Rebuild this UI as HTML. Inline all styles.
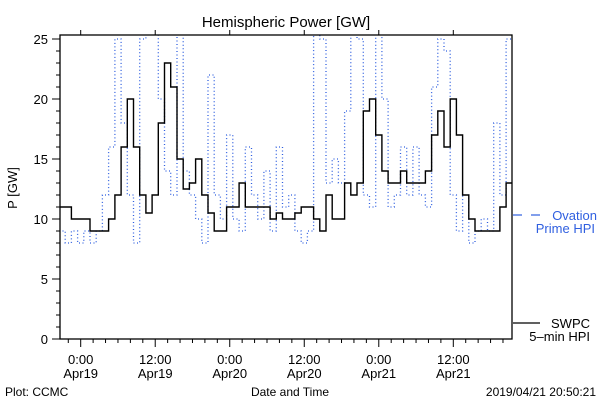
<!DOCTYPE html>
<html><head><meta charset="utf-8"><style>
body{margin:0;background:#fff}
svg{display:block;font-family:"Liberation Sans",sans-serif}
</style></head><body>
<svg id="chart" width="600" height="400" viewBox="0 0 600 400">
<defs><clipPath id="plotclip"><rect x="60" y="35" width="452" height="304"/></clipPath></defs>
<text x="286" y="27" font-size="15" text-anchor="middle">Hemispheric Power [GW]</text>
<text transform="translate(17,188) rotate(-90)" font-size="13" text-anchor="middle">P [GW]</text>
<text x="290" y="396" font-size="12" text-anchor="middle">Date and Time</text>
<text x="5" y="396" font-size="12">Plot: CCMC</text>
<text x="596" y="396" font-size="12" text-anchor="end">2019/04/21 20:50:21</text>
<g id="axes"></g>
<g id="series" clip-path="url(#plotclip)"></g>
<rect x="60" y="35" width="452" height="304" fill="none" stroke="#000" stroke-width="1.3"/>
<g>
<line x1="513" y1="215" x2="522" y2="215" stroke="#2f5fe0" stroke-width="1.2"/>
<line x1="531" y1="215" x2="540" y2="215" stroke="#2f5fe0" stroke-width="1.2"/>
<text x="597" y="220" font-size="13" fill="#2f5fe0" text-anchor="end">Ovation</text>
<text x="595" y="233" font-size="13" fill="#2f5fe0" text-anchor="end">Prime HPI</text>
</g>
<g>
<line x1="513" y1="323" x2="540" y2="323" stroke="#000" stroke-width="1.2"/>
<text x="590" y="328" font-size="13" text-anchor="end">SWPC</text>
<text x="590" y="341" font-size="13" text-anchor="end">5–min HPI</text>
</g>
</svg>
<script>
const hours = [];
for (let h = -3; h <= 69; h++) hours.push(h);
const swpcValues = [11,11,10,10,10,9,9,9,10,12,16,20,16,12,10.5,12,18,23,21,15,12.5,13,15,12,10.5,9,9,11,11,13,11,11,11,11,10,10.5,10,10,10.5,11,11,10,9,12,10,10,13,12,13,19,20,17,14,13,13,14,13,13,13,14,17,19,16,20,17,12,10,9,9,9,9,11,13];
const ovationValues = [9,8,9,8,9,8,9,12,16,25,18,12,8,25,26,26,20,14,12,26,14,12,10,8,22,12,10,17,10,9,16,12,10,14,9,16,11,12,9,8,9,26,25,13,15,13,19,26,25,12,11,26,20,11,12,16,12,16,12,11,21,25,24,12,9,12,8,9,10,9,18,12,25];
const yTicks = [0,5,10,15,20,25];
const xTickHours = [0,12,24,36,48,60];
const xTickTimes = ["0:00","12:00","0:00","12:00","0:00","12:00"];
const xTickDates = ["Apr19","Apr19","Apr20","Apr20","Apr21","Apr21"];

const NS = "http://www.w3.org/2000/svg";
const xScale = h => 80.7 + h * 6.21;
const yScale = v => 339 - v * 12;
const axes = document.getElementById("axes");
const series = document.getElementById("series");
function mk(tag, attrs, parent) {
  const e = document.createElementNS(NS, tag);
  for (const k in attrs) e.setAttribute(k, attrs[k]);
  parent.appendChild(e);
  return e;
}
for (let v = 0; v <= 25; v++) {
  const major = v % 5 === 0;
  const t = mk("line", {x1: major ? 52 : 56, x2: 60, y1: yScale(v), y2: yScale(v), stroke: "#000", "stroke-width": 1}, axes);
  
  
}
yTicks.forEach(v => {
  const t = mk("text", {x: 48, y: yScale(v) + 5, "font-size": 13, "text-anchor": "end"}, axes);
  t.textContent = v;
  
  
});
for (let h = -2; h <= 68; h += 2) {
  const major = h % 12 === 0;
  const t = mk("line", {x1: xScale(h), x2: xScale(h), y1: 339, y2: major ? 347 : 343, stroke: "#000", "stroke-width": 1}, axes);
  
  
  if (major) {
    const tt = mk("line", {x1: xScale(h), x2: xScale(h), y1: 35, y2: 30, stroke: "#000", "stroke-width": 1}, axes);
    
    
  }
}
xTickHours.forEach((h, i) => {
  const a = mk("text", {x: xScale(h), y: 364, "font-size": 13, "text-anchor": "middle"}, axes);
  a.textContent = xTickTimes[i];
  
  
  const b = mk("text", {x: xScale(h), y: 378, "font-size": 13, "text-anchor": "middle"}, axes);
  b.textContent = xTickDates[i];
  
  
});
function stepPoints(vals) {
  const pts = [];
  hours.forEach((h, i) => {
    const x0 = xScale(h - 0.5), x1 = xScale(h + 0.5), y = yScale(vals[i]);
    pts.push(x0.toFixed(1) + "," + y.toFixed(1));
    pts.push(x1.toFixed(1) + "," + y.toFixed(1));
  });
  return pts.join(" ");
}
const ov = mk("polyline", {points: stepPoints(ovationValues), fill: "none", stroke: "#2f5fe0", "stroke-width": 1.3, "stroke-dasharray": "1 2.5"}, series);


const sw = mk("polyline", {points: stepPoints(swpcValues), fill: "none", stroke: "#000", "stroke-width": 1.4}, series);


</script>
</body></html>
